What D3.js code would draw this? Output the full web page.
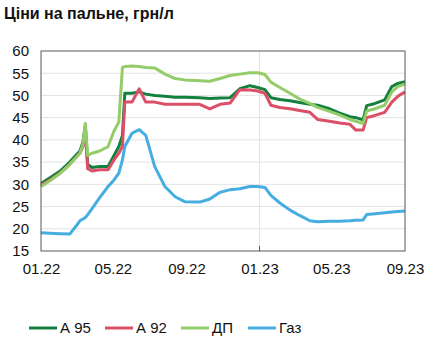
<!DOCTYPE html>
<html>
<head>
<meta charset="utf-8">
<script src="https://cdn.jsdelivr.net/npm/d3@7"></script>
<style>
  body { margin: 0; background: #fff; }
  svg { font-family: "Liberation Sans", Arial, sans-serif; }
</style>
</head>
<body>
<svg id="chart"></svg>
<script>
(function(){
    "use strict";

    var width = 429,
        height = 349;

    // dates shared by every series
    var dates = [
        "2022-01-01","2022-01-16","2022-02-02","2022-02-18","2022-02-28","2022-03-07",
        "2022-03-12","2022-03-16","2022-03-20","2022-03-27","2022-04-09","2022-04-23",
        "2022-05-03","2022-05-11","2022-05-17","2022-05-21","2022-06-02","2022-06-14",
        "2022-06-25","2022-07-10","2022-07-27","2022-08-13","2022-08-29","2022-09-23",
        "2022-10-10","2022-10-27","2022-11-13","2022-11-29","2022-12-16","2022-12-29",
        "2023-01-10","2023-01-20","2023-02-04","2023-02-21","2023-03-09","2023-03-26",
        "2023-04-08","2023-04-28","2023-05-15","2023-06-01","2023-06-11","2023-06-23",
        "2023-06-29","2023-07-13","2023-07-29","2023-08-10","2023-08-20","2023-09-01"
    ];

    var a95 = [
        30.2, 31.5, 33.0, 35.0, 36.5, 37.5,
        39.5, 43.3, 34.5, 33.8, 34.0, 34.0,
        36.5, 38.5, 41.0, 50.5, 50.5, 50.8,
        50.3, 50.0, 49.8, 49.6, 49.6, 49.5,
        49.3, 49.4, 49.5, 51.5, 52.2, 51.8,
        51.3, 49.5, 49.1, 48.8, 48.4, 48.0,
        47.8, 47.0, 46.0, 45.2, 45.0, 44.5,
        47.7, 48.2, 49.0, 52.0, 52.7, 53.1
    ];

    var a92 = [
        29.8, 31.0, 32.5, 34.5, 36.0, 37.0,
        38.5, 41.8, 33.5, 33.0, 33.3, 33.3,
        35.5, 37.0, 38.5, 48.5, 48.5, 51.5,
        48.5, 48.5, 48.0, 48.0, 48.0, 48.0,
        47.0, 48.0, 48.3, 51.3, 51.2, 51.0,
        50.5, 47.8, 47.3, 47.0, 46.6, 46.2,
        44.6, 44.2, 43.8, 43.5, 42.2, 42.2,
        45.0, 45.5, 46.2, 48.5, 49.8, 50.8
    ];

    var dp = [
        29.5, 30.8, 32.5, 34.5, 36.0, 37.0,
        39.0, 43.7, 36.5, 37.0, 37.5, 38.5,
        42.0, 44.0, 56.3, 56.5, 56.6, 56.5,
        56.3, 56.2, 54.8, 53.8, 53.5, 53.3,
        53.2, 53.8, 54.5, 54.8, 55.1, 55.1,
        54.7, 53.0, 51.8, 50.5, 49.2, 48.2,
        47.3, 46.4, 45.6, 44.6, 44.2, 43.7,
        46.5, 47.0, 47.8, 50.8, 52.0, 52.6
    ];

    var gas = [
        19.1, 19.0, 18.9, 18.8, 20.5, 21.8,
        22.2, 22.5, 23.2, 24.5, 27.0, 29.5,
        31.0, 32.5, 35.5, 38.5, 41.5, 42.3,
        41.0, 34.0, 29.5, 27.2, 26.1, 26.0,
        26.7, 28.2, 28.8, 29.0, 29.5, 29.5,
        29.3, 27.5, 25.8, 24.2, 23.0, 21.8,
        21.6, 21.7, 21.7, 21.8, 21.9, 22.0,
        23.2, 23.4, 23.6, 23.8, 23.9, 24.0
    ];

    var seriesNames = ["А 95", "А 92", "ДП", "Газ"];
    var seriesValues = [a95, a92, dp, gas];
    var seriesColors = ["#14803f", "#db5067", "#93cc68", "#45ade0"];

    var xTicks = ["2022-01-01","2022-05-01","2022-09-01","2023-01-01","2023-05-01","2023-09-01"];
    var yTicks = [15, 20, 25, 30, 35, 40, 45, 50, 55, 60];

    var parse = d3.timeParse("%Y-%m-%d");
    var fmt = d3.timeFormat("%m.%y");

    var margin = {top: 51, right: 24, bottom: 98, left: 41};

    var x = d3.scaleTime()
        .domain([parse("2022-01-01"), parse("2023-09-01")])
        .range([margin.left, width - margin.right]);

    var y = d3.scaleLinear()
        .domain([15, 60])
        .range([height - margin.bottom, margin.top]);

    var svg = d3.select("svg#chart")
        .attr("width", width)
        .attr("height", height);

    // title
    svg.append("text")
        .attr("x", 4)
        .attr("y", 19)
        .style("font-size", "16px")
        .style("font-weight", "bold")
        .attr("fill", "#111")
        .text("Ціни на пальне, грн/л");

    // horizontal grid
    svg.append("g")
        .selectAll("line")
        .data(yTicks.slice(1, -1))
        .enter().append("line")
        .attr("x1", margin.left)
        .attr("x2", width - margin.right)
        .attr("y1", function(d) { return y(d); })
        .attr("y2", function(d) { return y(d); })
        .attr("stroke", "#e3e3e3")
        .attr("stroke-width", 1);

    // year separator
    svg.append("line")
        .attr("x1", x(parse("2023-01-01")))
        .attr("x2", x(parse("2023-01-01")))
        .attr("y1", y(60))
        .attr("y2", y(15))
        .attr("stroke", "#e3e3e3");

    svg.append("line")
        .attr("x1", x(parse("2023-01-01")))
        .attr("x2", x(parse("2023-01-01")))
        .attr("y1", y(15) - 5)
        .attr("y2", y(15))
        .attr("stroke", "#555");

    // y axis labels
    var yAxis = d3.axisLeft(y)
        .tickValues(yTicks)
        .tickSize(0)
        .tickPadding(12);

    svg.append("g")
        .attr("transform", "translate(" + margin.left + ",0)")
        .call(yAxis)
        .call(function(g) { g.select(".domain").remove(); })
        .selectAll("text")
        .style("font-size", "15px")
        .style("font-family", "Liberation Sans, Arial, sans-serif")
        .attr("fill", "#111");

    // x axis labels
    var xAxis = d3.axisBottom(x)
        .tickValues(xTicks.map(parse))
        .tickFormat(fmt)
        .tickSize(0)
        .tickPadding(12);

    svg.append("g")
        .attr("transform", "translate(0," + y(15) + ")")
        .call(xAxis)
        .call(function(g) { g.select(".domain").remove(); })
        .selectAll("text")
        .style("font-size", "15px")
        .style("font-family", "Liberation Sans, Arial, sans-serif")
        .attr("fill", "#111");

    // lines
    var line = d3.line()
        .x(function(d) { return x(d[0]); })
        .y(function(d) { return y(d[1]); });

    svg.append("g")
        .selectAll("path")
        .data(seriesValues)
        .enter().append("path")
        .attr("d", function(vals) {
            return line(vals.map(function(v, i) { return [parse(dates[i]), v]; }));
        })
        .attr("fill", "none")
        .attr("stroke", function(d, i) { return seriesColors[i]; })
        .attr("stroke-width", 3)
        .attr("stroke-linejoin", "round");

    // plot frame
    svg.append("rect")
        .attr("x", margin.left)
        .attr("y", margin.top)
        .attr("width", width - margin.right - margin.left)
        .attr("height", height - margin.bottom - margin.top)
        .attr("fill", "none")
        .attr("stroke", "#595959")
        .attr("stroke-width", 1);

    // legend
    var legendX = [29, 105, 181, 248];
    var legend = svg.append("g")
        .selectAll("g")
        .data(seriesNames)
        .enter().append("g")
        .attr("transform", function(d, i) { return "translate(" + legendX[i] + ",328)"; });

    legend.append("line")
        .attr("x1", 0)
        .attr("x2", 28)
        .attr("stroke", function(d, i) { return seriesColors[i]; })
        .attr("stroke-width", 3);

    legend.append("text")
        .attr("x", 31)
        .attr("dy", "0.35em")
        .style("font-size", "15px")
        .attr("fill", "#111")
        .text(function(d) { return d; });
})();
</script>
</body>
</html>
